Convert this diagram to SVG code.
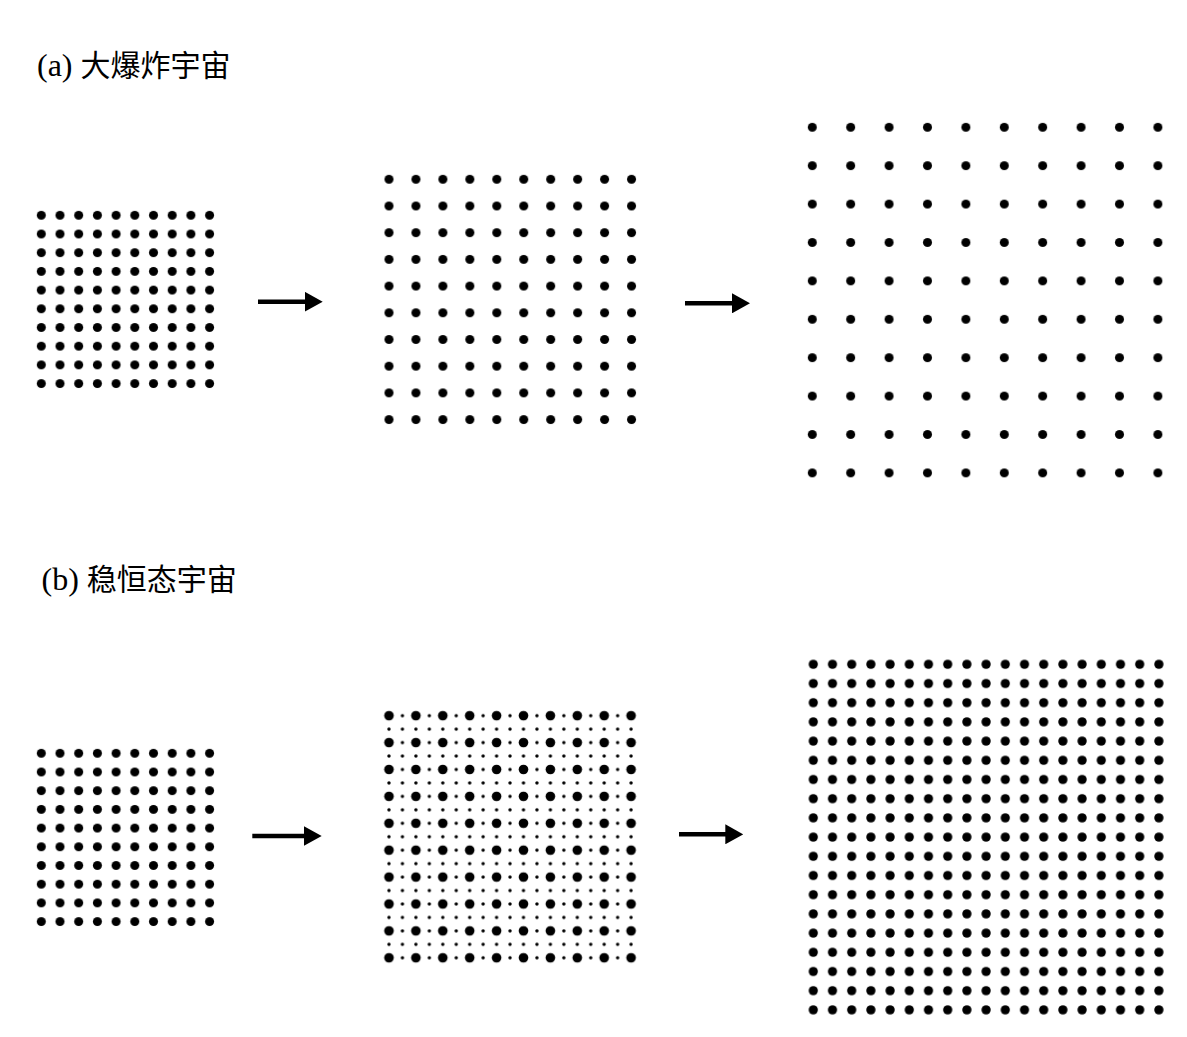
<svg xmlns="http://www.w3.org/2000/svg" width="1187" height="1037" viewBox="0 0 1187 1037">
<style>
.lbl{font-size:30px;fill:#000}
.lat{font-family:"Liberation Serif","Times New Roman",serif;font-size:32px}
.cjk{font-family:"Noto Sans CJK SC","Noto Sans CJK TC",sans-serif}
.arrow{stroke:#000;stroke-width:4.5;fill:none}
.dot{fill:#000}
</style>
<defs>
<marker id="head" markerUnits="userSpaceOnUse" markerWidth="18" markerHeight="20" refX="8" refY="10" orient="auto" viewBox="0 0 18 20">
<path d="M0,0 L18,10 L0,20 Z" fill="#000"/>
</marker>
<pattern id="pA1" patternUnits="userSpaceOnUse" x="31.95" y="205.95" width="18.7" height="18.7">
<circle class="dot" cx="9.35" cy="9.35" r="4.5"/>
</pattern>
<pattern id="pA2" patternUnits="userSpaceOnUse" x="375.525" y="165.95" width="26.95" height="26.7">
<circle class="dot" cx="13.475" cy="13.35" r="4.5"/>
</pattern>
<pattern id="pA3" patternUnits="userSpaceOnUse" x="793.1" y="108.1" width="38.4" height="38.4">
<circle class="dot" cx="19.2" cy="19.2" r="4.5"/>
</pattern>
<pattern id="pB1" patternUnits="userSpaceOnUse" x="31.95" y="743.95" width="18.7" height="18.7">
<circle class="dot" cx="9.35" cy="9.35" r="4.5"/>
</pattern>
<pattern id="pB2s" patternUnits="userSpaceOnUse" x="382.275" y="708.975" width="13.45" height="13.45">
<circle class="dot" cx="6.725" cy="6.725" r="1.7"/>
</pattern>
<pattern id="pB2b" patternUnits="userSpaceOnUse" x="375.55" y="702.25" width="26.9" height="26.9">
<circle class="dot" cx="13.45" cy="13.45" r="4.8"/>
</pattern>
<pattern id="pB3" patternUnits="userSpaceOnUse" x="803.7" y="654.7" width="19.2" height="19.2">
<circle class="dot" cx="9.6" cy="9.6" r="4.6"/>
</pattern>
</defs>
<rect width="1187" height="1037" fill="#fff"/>
<g id="label-a">
<text class="lbl" x="37" y="76"><tspan class="lat">(a) </tspan><tspan class="cjk">大爆炸宇宙</tspan></text>
</g>
<g id="label-b">
<text class="lbl" x="41.5" y="590"><tspan class="lat">(b) </tspan><tspan class="cjk">稳恒态宇宙</tspan></text>
</g>
<g id="a-early">
<rect x="31.95" y="205.95" width="187" height="187" fill="url(#pA1)"/>
</g>
<g id="a-middle">
<rect x="375.525" y="165.95" width="269.5" height="267" fill="url(#pA2)"/>
</g>
<g id="a-late">
<rect x="793.1" y="108.1" width="384" height="384" fill="url(#pA3)"/>
</g>
<g id="b-early">
<rect x="31.95" y="743.95" width="187" height="187" fill="url(#pB1)"/>
</g>
<g id="b-middle">
<rect x="382.275" y="708.975" width="255.55" height="255.55" fill="url(#pB2s)"/>
<rect x="375.55" y="702.25" width="269" height="269" fill="url(#pB2b)"/>
</g>
<g id="b-late">
<rect x="803.7" y="654.7" width="364.8" height="364.8" fill="url(#pB3)"/>
</g>
<g id="connectors">
<line class="arrow" x1="258" y1="301.7" x2="312.7" y2="301.7" marker-end="url(#head)"/>
<line class="arrow" x1="685" y1="303.3" x2="740" y2="303.3" marker-end="url(#head)"/>
<line class="arrow" x1="252.3" y1="836" x2="311.7" y2="836" marker-end="url(#head)"/>
<line class="arrow" x1="679" y1="834.3" x2="733.3" y2="834.3" marker-end="url(#head)"/>
</g>
</svg>
